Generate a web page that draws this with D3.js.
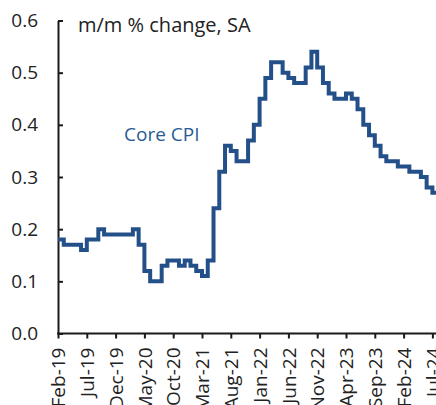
<!DOCTYPE html>
<html>
<head>
<meta charset="utf-8">
<script src="https://cdn.jsdelivr.net/npm/d3@7"></script>
<style>
  html, body { margin: 0; padding: 0; background: #fff; overflow: hidden; }
  #chart text { font-family: "Open Sans", sans-serif; }
</style>
</head>
<body>
<div id="chart"></div>
<script>
// monthly core CPI, m/m % change, Feb-19 onwards
var coreCpi = [
    0.18, 0.17, 0.17, 0.17, 0.16, 0.18, 0.18, 0.20, 0.19, 0.19, 0.19,
    0.19, 0.19, 0.20, 0.17, 0.12, 0.10, 0.10, 0.13, 0.14, 0.14, 0.13,
    0.14, 0.13, 0.12, 0.11, 0.14, 0.24, 0.31, 0.36, 0.35, 0.33, 0.33,
    0.37, 0.40, 0.45, 0.49, 0.52, 0.52, 0.50, 0.49, 0.48, 0.48, 0.51,
    0.54, 0.51, 0.48, 0.46, 0.45, 0.45, 0.46, 0.45, 0.43, 0.40, 0.38,
    0.36, 0.34, 0.33, 0.33, 0.32, 0.32, 0.31, 0.31, 0.30, 0.28, 0.27,
    0.27
];
var tickLabels = [
    "Feb-19", "Jul-19", "Dec-19", "May-20", "Oct-20", "Mar-21", "Aug-21",
    "Jan-22", "Jun-22", "Nov-22", "Apr-23", "Sep-23", "Feb-24", "Jul-24"
];
var yTicks = [0, 0.1, 0.2, 0.3, 0.4, 0.5, 0.6];

function createChart() {
    var w = 436;
    var h = 405;
    var left = 58;
    var bottom = 333.5;
    var top = 20.5;

    var svg = d3.select("#chart")
        .append("svg")
        .attr("width", w)
        .attr("height", h);

    // one tick every 5 months, Feb-19 .. Jul-24
    var x = d3.scaleLinear()
        .domain([0, (tickLabels.length - 1) * 5])
        .range([left, 432.4]);
    var y = d3.scaleLinear()
        .domain([0, 0.6])
        .range([bottom, top]);

    var yAxis = d3.axisLeft(y)
        .tickValues(yTicks)
        .tickFormat(d3.format(".1f"))
        .tickSizeInner(-5)
        .tickSizeOuter(0)
        .tickPadding(20);

    var gy = svg.append("g")
        .attr("transform", "translate(" + left + ",0)")
        .call(yAxis);
    gy.select(".domain").attr("stroke", "#1a1a1a").attr("stroke-width", 2);
    gy.selectAll(".tick line").attr("stroke", "#1a1a1a").attr("stroke-width", 2);
    gy.selectAll(".tick text")
        .attr("font-size", "19px")
        .attr("fill", "#222");

    var xAxis = d3.axisBottom(x)
        .tickValues(tickLabels.map(function(d, i) { return i * 5; }))
        .tickFormat(function(d) { return tickLabels[d / 5]; })
        .tickSizeInner(5)
        .tickSizeOuter(0);

    var gx = svg.append("g")
        .attr("transform", "translate(0," + bottom + ")")
        .call(xAxis);
    gx.select(".domain").remove();
    gx.append("line")
        .attr("x1", left - 1)
        .attr("x2", w + 5)
        .attr("stroke", "#1a1a1a")
        .attr("stroke-width", 2);
    gx.selectAll(".tick line").attr("stroke", "#1a1a1a").attr("stroke-width", 2);
    gx.selectAll(".tick text")
        .attr("font-size", "19px")
        .attr("fill", "#222")
        .attr("text-anchor", "end")
        .attr("dy", "0.35em")
        .attr("transform", "translate(0,14) rotate(-90)")
        .attr("x", 0)
        .attr("y", 0);

    var line = d3.line()
        .x(function(d, i) { return x(i); })
        .y(function(d) { return y(d); })
        .curve(d3.curveStepAfter);

    svg.append("path")
        .datum(coreCpi)
        .attr("fill", "none")
        .attr("stroke", "#24508a")
        .attr("stroke-width", 4)
        .attr("d", line);

    svg.append("text")
        .attr("x", 78)
        .attr("y", 32)
        .attr("font-size", "20px")
        .attr("fill", "#222")
        .text("m/m % change, SA");

    svg.append("text")
        .attr("x", 124)
        .attr("y", 141)
        .attr("font-size", "19px")
        .attr("fill", "#2a5a93")
        .text("Core CPI");
}

createChart();
</script>
</body>
</html>
